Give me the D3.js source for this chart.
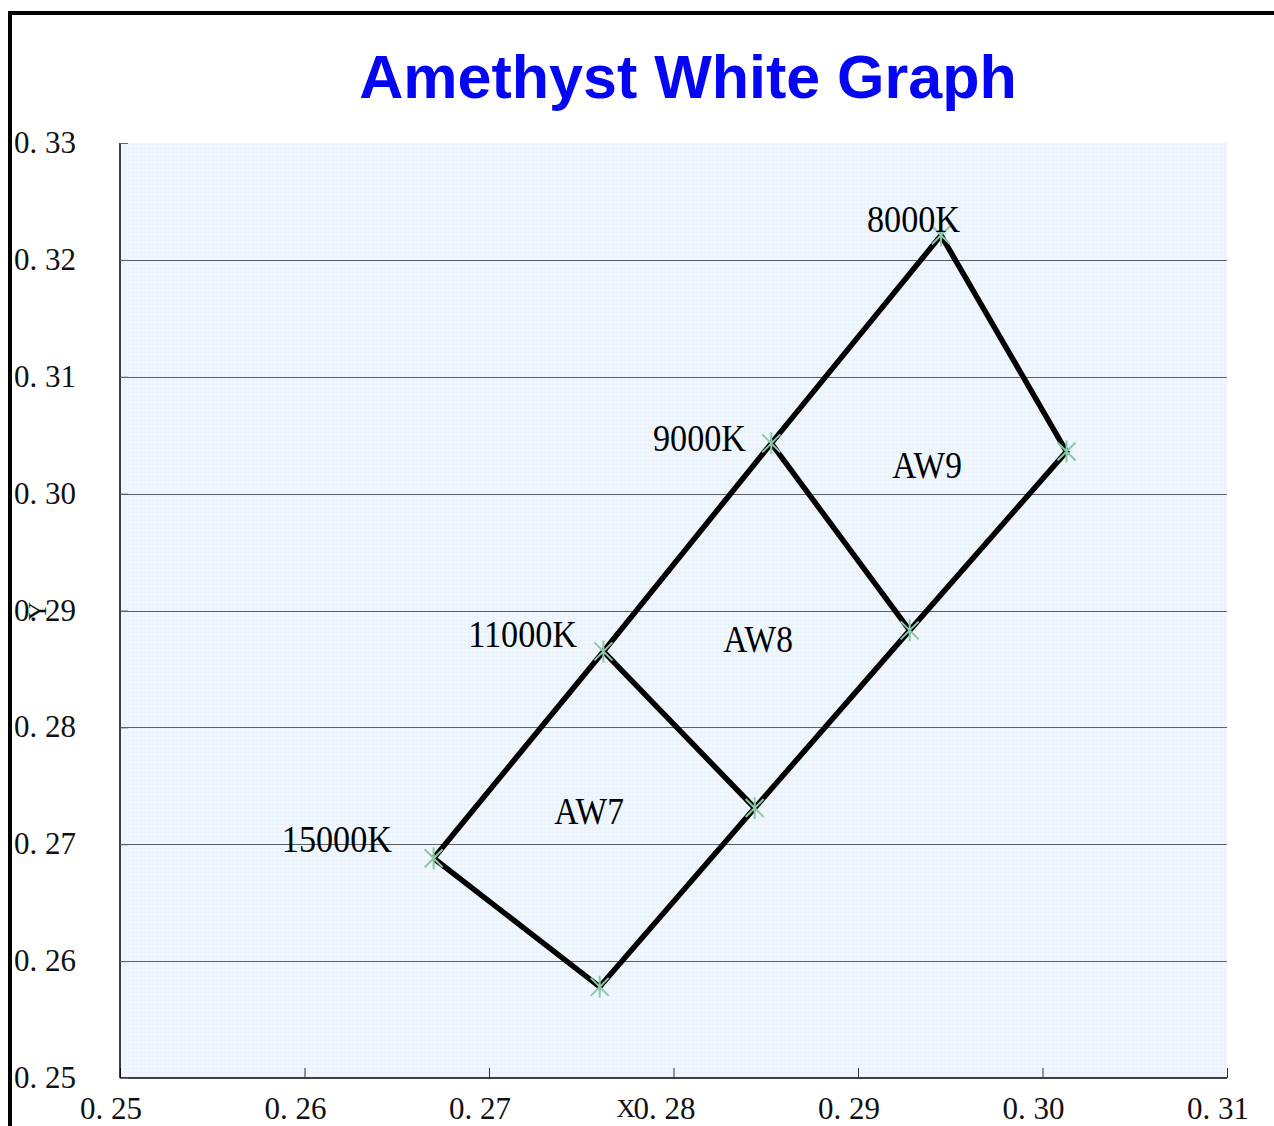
<!DOCTYPE html>
<html>
<head>
<meta charset="utf-8">
<script src="https://cdn.jsdelivr.net/npm/d3@7"></script>
<style>
  body { margin: 0; background: #fff; }
  svg { display: block; }
</style>
</head>
<body>
<svg id="chart" width="1274" height="1126"></svg>
<script>
// corner points of the bins (CIE x, y)
const cornerNames = ["15000K", "11000K", "9000K", "8000K", "c8", "c9", "c7", "c15"];
const cornerX = [0.2670, 0.2762, 0.2853, 0.2945, 0.3013, 0.2928, 0.2844, 0.2760];
const cornerY = [0.2688, 0.2865, 0.3043, 0.3221, 0.3036, 0.2883, 0.2731, 0.2578];

// polylines drawn as index lists into the corners
const outline = [0, 1, 2, 3, 4, 5, 6, 7, 0];
const divider1 = [1, 6];
const divider2 = [2, 5];

// temperature labels
const cctText = ["8000K", "9000K", "11000K", "15000K"];
const cctX = [0.29553, 0.28393, 0.27477, 0.26474];
const cctY = [0.32237, 0.30364, 0.28687, 0.26933];

// bin labels
const binText = ["AW9", "AW8", "AW7"];
const binX = [0.29374, 0.28458, 0.27542];
const binY = [0.30133, 0.28644, 0.27173];

const xTicks = [0.25, 0.26, 0.27, 0.28, 0.29, 0.30, 0.31];
const yTicks = [0.25, 0.26, 0.27, 0.28, 0.29, 0.30, 0.31, 0.32, 0.33];

const svg = d3.select("#chart");
const plotL = 120, plotR = 1227, plotT = 143, plotB = 1078;
const serif = "'Liberation Serif', 'DejaVu Serif', serif";

const x = d3.scaleLinear().domain([0.25, 0.31]).range([plotL, plotR]);
const y = d3.scaleLinear().domain([0.25, 0.33]).range([plotB, plotT]);

// outer frame (left + top heavy border)
svg.append("path")
  .attr("d", `M10,1130 L10,13 L1280,13`)
  .attr("fill", "none")
  .attr("stroke", "#000")
  .attr("stroke-width", 4);

// background pattern
const defs = svg.append("defs");
const pat = defs.append("pattern")
  .attr("id", "bg").attr("width", 4).attr("height", 4)
  .attr("patternUnits", "userSpaceOnUse");
pat.append("rect").attr("width", 4).attr("height", 4).attr("fill", "#eef5fd");
pat.append("rect").attr("width", 1).attr("height", 1).attr("fill", "#e2eefa");
pat.append("rect").attr("x", 2).attr("y", 2).attr("width", 1).attr("height", 1).attr("fill", "#f6faff");

svg.append("rect")
  .attr("x", plotL).attr("y", plotT)
  .attr("width", plotR - plotL).attr("height", plotB - plotT)
  .attr("fill", "url(#bg)");

// title
svg.append("text")
  .attr("x", 688).attr("y", 98)
  .attr("text-anchor", "middle")
  .attr("font-family", "'Liberation Sans', Arial, sans-serif")
  .attr("font-weight", "bold")
  .attr("font-size", 61)
  .attr("fill", "#0505f5")
  .text("Amethyst White Graph");

// horizontal gridlines
svg.append("g").selectAll("line")
  .data(yTicks.filter(d => d > 0.25 && d < 0.33))
  .join("line")
  .attr("x1", plotL).attr("x2", plotR)
  .attr("y1", d => Math.round(y(d)) + 0.5).attr("y2", d => Math.round(y(d)) + 0.5)
  .attr("stroke", "#5a5e66").attr("stroke-width", 1.2);

// axes: ticks point inwards
const xAxis = svg.append("g")
  .attr("transform", `translate(0,${plotB})`)
  .call(d3.axisBottom(x).tickValues(xTicks).tickSize(-10).tickFormat(""));
xAxis.select(".domain").attr("stroke", "#000").attr("stroke-width", 1.5).attr("d", `M${plotL},0H${plotR}`);
xAxis.selectAll(".tick line").attr("stroke", "#333");

const yAxis = svg.append("g")
  .attr("transform", `translate(${plotL},0)`)
  .call(d3.axisLeft(y).tickValues(yTicks).tickSize(-8).tickFormat(""));
yAxis.select(".domain").attr("stroke", "#000").attr("stroke-width", 1.5).attr("d", `M0,${plotT}V${plotB}`);
yAxis.selectAll(".tick line").attr("stroke", "#666");

const fmt = d => "0. " + d.toFixed(2).slice(2);

// tick labels
svg.append("g").selectAll("text")
  .data(xTicks).join("text")
  .attr("x", d => x(d) - 9).attr("y", 1119)
  .attr("text-anchor", "middle")
  .attr("font-family", serif).attr("font-size", 31)
  .attr("fill", "#111")
  .text(fmt);

svg.append("g").selectAll("text")
  .data(yTicks).join("text")
  .attr("x", 14).attr("y", d => y(d) + 10)
  .attr("font-family", serif).attr("font-size", 31)
  .attr("fill", "#111")
  .text(fmt);

// axis titles
svg.append("text")
  .attr("x", 626).attr("y", 1117)
  .attr("text-anchor", "middle")
  .attr("font-family", serif).attr("font-size", 26)
  .attr("fill", "#111")
  .text("X");
svg.append("text")
  .attr("transform", "translate(46,611) rotate(-90)")
  .attr("text-anchor", "middle")
  .attr("font-family", serif).attr("font-size", 26)
  .attr("fill", "#111")
  .text("Y");

// bin outlines
const line = d3.line().x(i => x(cornerX[i])).y(i => y(cornerY[i]));
svg.append("g").selectAll("path")
  .data([outline, divider1, divider2])
  .join("path")
  .attr("d", line)
  .attr("fill", "none")
  .attr("stroke", "#000")
  .attr("stroke-width", 5.5)
  .attr("stroke-linejoin", "miter");

// asterisk markers
const m = 9;
svg.append("g").selectAll("path")
  .data(d3.range(cornerX.length))
  .join("path")
  .attr("transform", i => `translate(${x(cornerX[i])},${y(cornerY[i])})`)
  .attr("d", `M${-m},${-m}L${m},${m}M${-m},${m}L${m},${-m}M0,${-m - 2}L0,${m + 2}`)
  .attr("stroke", "#8cc8a8")
  .attr("stroke-width", 2)
  .attr("fill", "none");

// labels: slightly condensed, taller serif
svg.append("g").selectAll("text")
  .data(cctText).join("text")
  .attr("transform", (d, i) => `translate(${x(cctX[i])},${y(cctY[i])}) scale(0.9,1)`)
  .attr("text-anchor", "end")
  .attr("font-family", serif).attr("font-size", 38)
  .attr("fill", "#000")
  .text(d => d);

svg.append("g").selectAll("text")
  .data(binText).join("text")
  .attr("transform", (d, i) => `translate(${x(binX[i])},${y(binY[i])}) scale(0.88,1)`)
  .attr("text-anchor", "middle")
  .attr("font-family", serif).attr("font-size", 38)
  .attr("fill", "#000")
  .text(d => d);
</script>
</body>
</html>
